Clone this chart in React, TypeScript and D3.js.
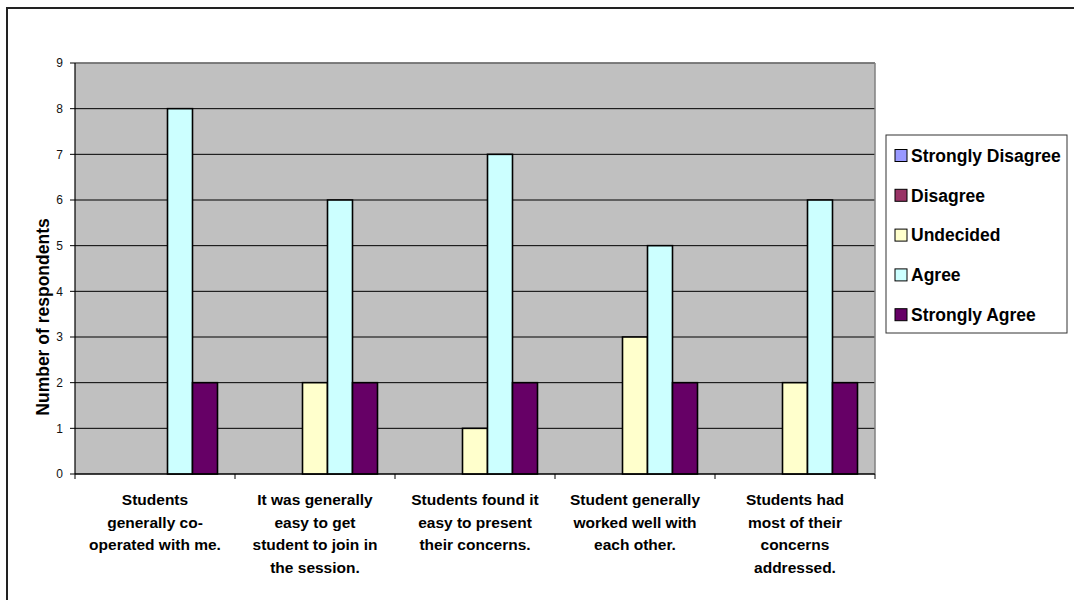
import React from "react";
import * as d3 from "d3";

const categories = [
  "Students generally co-operated with me.",
  "It was generally easy to get student to join in the session.",
  "Students found it easy to present their concerns.",
  "Student generally worked well with each other.",
  "Students had most of their concerns addressed.",
];

const categoryLines = [
  ["Students", "generally co-", "operated with me."],
  ["It was generally", "easy to get", "student to join in", "the session."],
  ["Students found it", "easy to present", "their concerns."],
  ["Student generally", "worked well with", "each other."],
  ["Students had", "most of their", "concerns", "addressed."],
];

const seriesNames = ["Strongly Disagree", "Disagree", "Undecided", "Agree", "Strongly Agree"];
const seriesColors = ["#9999FF", "#993366", "#FFFFCC", "#CCFFFF", "#660066"];

const stronglyDisagree = [0, 0, 0, 0, 0];
const disagree = [0, 0, 0, 0, 0];
const undecided = [0, 2, 1, 3, 2];
const agree = [8, 6, 7, 5, 6];
const stronglyAgree = [2, 2, 2, 2, 2];

const seriesValues = [stronglyDisagree, disagree, undecided, agree, stronglyAgree];
const yTicks = [0, 1, 2, 3, 4, 5, 6, 7, 8, 9];

const W = 1074;
const H = 600;
const plot = { left: 75, top: 63, right: 875, bottom: 474 };
const FONT = "Arial, 'Liberation Sans', Helvetica, sans-serif";

export default function App() {
  const x0 = d3.scaleBand<number>().domain(d3.range(categories.length)).range([plot.left, plot.right]).padding(0);
  const groupW = x0.bandwidth() * (125 / 160);
  const x1 = d3.scaleBand<number>().domain(d3.range(seriesNames.length)).range([0, groupW]).padding(0);
  const y = d3.scaleLinear().domain([0, 9]).range([plot.bottom, plot.top]);

  return (
    <svg
      width={W}
      height={H}
      style={{ position: "absolute", left: 0, top: 0, background: "#fff" }}
      fontFamily={FONT}
    >
      {/* chart frame, running off the right and bottom edges */}
      <rect x={7} y={8} width={1200} height={800} fill="#fff" stroke="#222" strokeWidth={2} />

      {/* plot area */}
      <rect
        x={plot.left}
        y={plot.top}
        width={plot.right - plot.left}
        height={plot.bottom - plot.top}
        fill="#C0C0C0"
      />
      {yTicks.map((t) => (
        <line key={"g" + t} x1={plot.left} x2={plot.right} y1={y(t)} y2={y(t)} stroke="#000" strokeWidth={1} />
      ))}
      <line x1={plot.right} x2={plot.right} y1={plot.top} y2={plot.bottom} stroke="#808080" strokeWidth={1.5} />
      <line x1={plot.left} x2={plot.right} y1={plot.top} y2={plot.top} stroke="#808080" strokeWidth={1.5} />

      {/* bars */}
      {categories.map((c, ci) => {
        const gx = (x0(ci) as number) + (x0.bandwidth() - groupW) / 2;
        return seriesValues.map((vals, si) => {
          const v = vals[ci];
          if (v <= 0) return null;
          return (
            <rect
              key={c + si}
              x={gx + (x1(si) as number)}
              y={y(v)}
              width={x1.bandwidth()}
              height={y(0) - y(v)}
              fill={seriesColors[si]}
              stroke="#000"
              strokeWidth={1.6}
            />
          );
        });
      })}

      {/* y axis */}
      <line x1={plot.left} x2={plot.left} y1={plot.top} y2={plot.bottom} stroke="#000" strokeWidth={1.2} />
      {yTicks.map((t) => (
        <g key={"t" + t}>
          <line x1={plot.left - 5} x2={plot.left} y1={y(t)} y2={y(t)} stroke="#000" />
          <text x={plot.left - 12} y={y(t)} dy="0.35em" textAnchor="end" fontSize={12} fill="#111">
            {t}
          </text>
        </g>
      ))}
      <text
        transform={`translate(43,317) rotate(-90)`}
        textAnchor="middle"
        dy="0.35em"
        fontSize={17.5}
        fontWeight="bold"
        fill="#000"
      >
        Number of respondents
      </text>

      {/* x axis */}
      <line x1={plot.left} x2={plot.right} y1={plot.bottom} y2={plot.bottom} stroke="#000" strokeWidth={1.2} />
      {d3.range(categories.length + 1).map((i) => {
        const xx = i < categories.length ? (x0(i) as number) : plot.right;
        return <line key={"xt" + i} x1={xx} x2={xx} y1={plot.bottom} y2={plot.bottom + 5} stroke="#000" />;
      })}
      {categoryLines.map((lines, ci) => (
        <text
          key={"cl" + ci}
          x={(x0(ci) as number) + x0.bandwidth() / 2}
          y={500}
          textAnchor="middle"
          fontSize={15.5}
          fontWeight="bold"
          fill="#000"
        >
          {lines.map((ln, li) => (
            <tspan key={li} x={(x0(ci) as number) + x0.bandwidth() / 2} y={500 + li * 22.5} dy="0.35em">
              {ln}
            </tspan>
          ))}
        </text>
      ))}

      {/* legend */}
      <rect x={886} y={135} width={181} height={198} fill="#fff" stroke="#333" strokeWidth={1} />
      {seriesNames.map((name, i) => (
        <g key={name} transform={`translate(895,${155.5 + i * 39.8})`}>
          <rect x={0} y={-6} width={12} height={12} fill={seriesColors[i]} stroke="#000" strokeWidth={1} />
          <text x={16} y={0} dy="0.36em" fontSize={17.5} fontWeight="bold" fill="#000">
            {name}
          </text>
        </g>
      ))}
    </svg>
  );
}
